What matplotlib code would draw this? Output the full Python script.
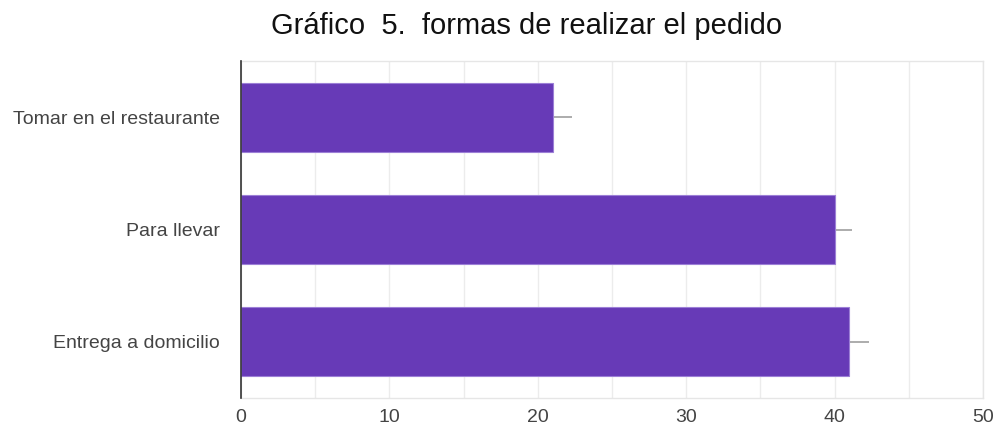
import numpy as np
import matplotlib
matplotlib.use('Agg')
import matplotlib.pyplot as plt

# order responses
categorias = ["Tomar en el restaurante", "Para llevar", "Entrega a domicilio"]
respuestas = [21, 40, 41]
margen = [1.3, 1.2, 1.3]
ticks_x = [0, 10, 20, 30, 40, 50]

plt.rcParams['font.family'] = ['Liberation Sans', 'DejaVu Sans']

fig = plt.figure(figsize=(9.97, 4.32), dpi=100)
ax = fig.add_axes([0.2417, 0.0787, 0.7443, 0.7801])

y = np.arange(len(categorias))
ax.barh(y, respuestas, height=0.615, color='#673ab7', edgecolor='#9c7fd6',
        linewidth=0.8, zorder=3)
ax.errorbar(respuestas, y, xerr=[np.zeros(len(margen)), margen], fmt='none',
            ecolor='#9e9e9e', elinewidth=1.2, capsize=0, zorder=2)

ax.set_xlim(0, 50)
ax.set_ylim(2.5, -0.5)
ax.set_yticks(y)
ax.set_yticklabels(categorias)
ax.set_xticks(ticks_x)
ax.set_xticks(np.arange(0, 51, 5), minor=True)
ax.grid(axis='x', which='both', color='#ececec', linewidth=1, zorder=0)
ax.tick_params(axis='both', which='both', length=0, labelsize=14, colors='#444444')
ax.tick_params(axis='x', pad=8)
ax.tick_params(axis='y', pad=15)

for side in ['top', 'right', 'bottom']:
    ax.spines[side].set_color('#e6e6e6')
    ax.spines[side].set_linewidth(1)
ax.spines['left'].set_color('#333333')
ax.spines['left'].set_linewidth(1.2)
ax.spines['left'].set_zorder(4)

fig.text(0.5286, 0.940, "Gráfico  5.  formas de realizar el pedido",
         ha='center', va='center', fontsize=21, color='#111111')

fig.savefig('out.png', dpi=100, facecolor='white')
